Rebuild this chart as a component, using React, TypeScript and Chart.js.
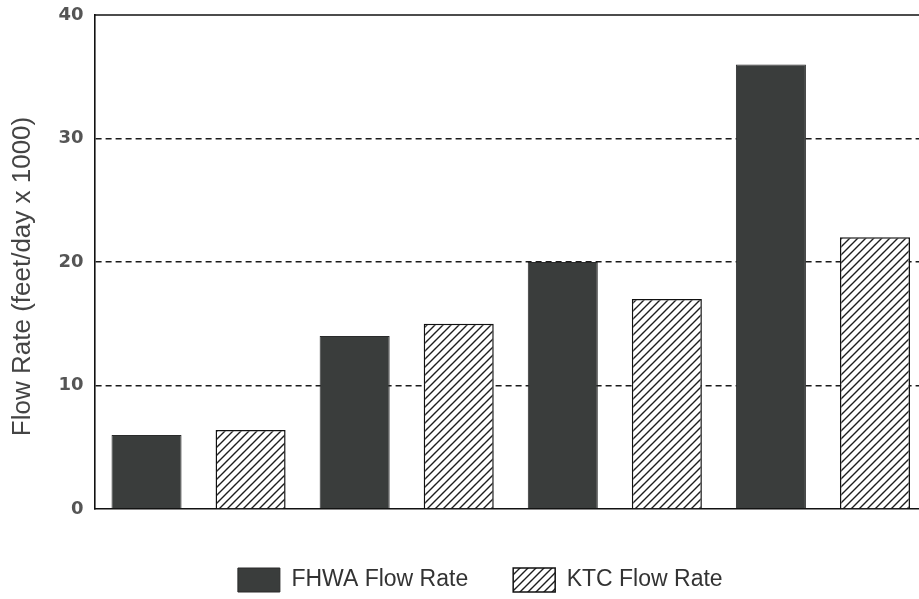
import React, { useEffect, useRef } from "react";
import { Chart, registerables } from "chart.js";

Chart.register(...registerables);

const categories = ["1", "2", "3", "4"];
const fhwaValues = [6, 14, 20, 36];
const ktcValues = [6.4, 15, 17, 22];
const yTicks = [0, 10, 20, 30, 40];
const seriesNames = ["FHWA Flow Rate", "KTC Flow Rate"];
const yTitle = "Flow Rate (feet/day x 1000)    ";

function makeHatch(): CanvasPattern | string {
  const s = 8;
  const c = document.createElement("canvas");
  c.width = s;
  c.height = s;
  const g = c.getContext("2d");
  if (!g) return "#fff";
  g.fillStyle = "#ffffff";
  g.fillRect(0, 0, s, s);
  g.strokeStyle = "#1e1e1e";
  g.lineWidth = 1.4;
  g.beginPath();
  g.moveTo(0, s);
  g.lineTo(s, 0);
  g.moveTo(-2, 2);
  g.lineTo(2, -2);
  g.moveTo(s - 2, s + 2);
  g.lineTo(s + 2, s - 2);
  g.stroke();
  return g.createPattern(c, "repeat") || "#fff";
}

const topLine = {
  id: "topLine",
  afterDraw(chart: any) {
    const { ctx, chartArea } = chart;
    ctx.save();
    ctx.strokeStyle = "#111";
    ctx.lineWidth = 1.6;
    ctx.beginPath();
    ctx.moveTo(chartArea.left, chartArea.top);
    ctx.lineTo(chartArea.right + 5, chartArea.top);
    ctx.stroke();
    ctx.restore();
  },
};

export default function App() {
  const ref = useRef<HTMLCanvasElement>(null);
  useEffect(() => {
    if (!ref.current) return;
    const hatch = makeHatch();
    const chart = new Chart(ref.current, {
      type: "bar",
      data: {
        labels: categories,
        datasets: [
          {
            label: seriesNames[0],
            data: fhwaValues,
            backgroundColor: "#3a3d3c",
            borderColor: "#2a2b2b",
            borderWidth: 1,
          },
          {
            label: seriesNames[1],
            data: ktcValues,
            backgroundColor: hatch as any,
            borderColor: "#111",
            borderWidth: 1.5,
          },
        ],
      },
      plugins: [topLine],
      options: {
        responsive: false,
        animation: false,
        devicePixelRatio: 1,
        layout: { padding: { left: 33.5, right: 0, top: 15, bottom: 0 } },
        datasets: {
          bar: { categoryPercentage: 1, barPercentage: 0.673 },
        },
        plugins: {
          tooltip: { enabled: false },
          legend: {
            position: "bottom",
            labels: {
              boxWidth: 42,
              boxHeight: 24,
              padding: 45,
              color: "#333",
              font: { family: "'Liberation Sans', Arial, sans-serif", size: 23 },
            },
          },
        },
        scales: {
          x: {
            ticks: { display: false },
            grid: { display: false, drawTicks: false },
            border: { display: true, color: "#111", width: 1.6 },
            afterFit: (s: any) => {
              s.height = 14;
            },
          },
          y: {
            min: 0,
            max: 40,
            afterBuildTicks: (s: any) => {
              s.ticks = yTicks.map((v) => ({ value: v }));
            },
            afterFit: (s: any) => {
              s.width = 61;
              s.paddingTop = 0;
              s.paddingBottom = 0;
            },
            ticks: {
              padding: 11,
              color: "#555",
              font: { family: "'DejaVu Sans', sans-serif", size: 18, weight: "bold" },
            },
            grid: {
              drawTicks: false,
              color: (ctx: any) =>
                ctx.tick && (ctx.tick.value === 0 || ctx.tick.value === 40) ? "rgba(0,0,0,0)" : "#1a1a1a",
              lineWidth: 1.5,
            },
            border: { display: true, color: "#111", width: 1.6, dash: [6, 4] },
            title: {
              display: true,
              text: yTitle,
              color: "#444",
              padding: { top: -26.1, bottom: 0 },
              font: { family: "'Liberation Sans', Arial, sans-serif", size: 26 },
            },
          },
        },
      },
    });
    return () => chart.destroy();
  }, []);
  return (
    <div
      style={{
        position: "fixed",
        left: 0,
        top: 0,
        width: 919,
        height: 599,
        overflow: "hidden",
        background: "#fff",
      }}
    >
      <canvas ref={ref} width={927} height={602} style={{ display: "block" }} />
    </div>
  );
}
